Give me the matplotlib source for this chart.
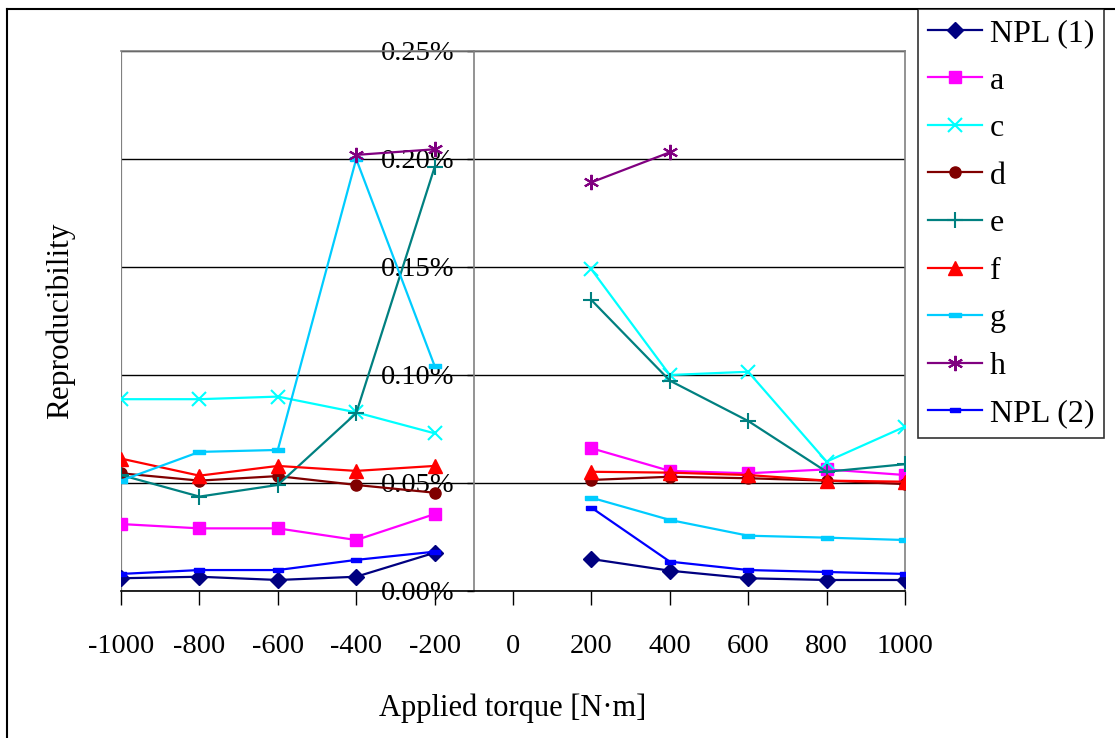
import numpy as np
import matplotlib
matplotlib.use("Agg")
import matplotlib.pyplot as plt
from matplotlib.lines import Line2D
from matplotlib.ticker import FuncFormatter

nan = np.nan

# applied torque steps (N·m); 0 is a gap between the two directions
torque = [-1000, -800, -600, -400, -200, 0, 200, 400, 600, 800, 1000]

# reproducibility in percent
npl1 = [0.0059, 0.0066, 0.0051, 0.0066, 0.0177, nan, 0.0148, 0.0094, 0.0059, 0.0051, 0.0051]
lab_a = [0.0310, 0.0290, 0.0290, 0.0236, 0.0356, nan, 0.0661, 0.0556, 0.0545, 0.0563, 0.0537]
lab_c = [0.0888, 0.0888, 0.0900, 0.0827, 0.0730, nan, 0.1489, 0.1000, 0.1015, 0.0599, 0.0761]
lab_d = [0.0545, 0.0511, 0.0532, 0.0491, 0.0455, nan, 0.0514, 0.0529, 0.0522, 0.0511, 0.0495]
lab_e = [0.0537, 0.0437, 0.0491, 0.0823, 0.1962, nan, 0.1347, 0.0974, 0.0787, 0.0552, 0.0587]
lab_f = [0.0613, 0.0534, 0.0579, 0.0556, 0.0579, nan, 0.0552, 0.0548, 0.0537, 0.0511, 0.0506]
lab_g = [0.0511, 0.0644, 0.0653, 0.2000, 0.1042, nan, 0.0432, 0.0329, 0.0256, 0.0247, 0.0236]
lab_h = [nan, nan, nan, 0.2019, 0.2045, nan, 0.1892, 0.2031, nan, nan, nan]
npl2 = [0.0079, 0.0097, 0.0097, 0.0144, 0.0182, nan, 0.0386, 0.0136, 0.0097, 0.0088, 0.0079]

labels = ["NPL (1)", "a", "c", "d", "e", "f", "g", "h", "NPL (2)"]
series = [npl1, lab_a, lab_c, lab_d, lab_e, lab_f, lab_g, lab_h, npl2]

# small horizontal bar used as a marker
bar = [(-1, -0.35), (1, -0.35), (1, 0.35), (-1, 0.35), (-1, -0.35)]

styles = [
    dict(color="#000080", marker="D", ms=8.5),
    dict(color="#FF00FF", marker="s", ms=8),
    dict(color="#00FFFF", marker="x", ms=10, mew=1.5),
    dict(color="#800000", marker="o", ms=8),
    dict(color="#008080", marker="+", ms=11, mew=1.5),
    dict(color="#FF0000", marker="^", ms=10),
    dict(color="#00CCFF", marker=bar, ms=9),
    dict(color="#800080", marker=(6, 2, 0), ms=11, mew=1.5),
    dict(color="#0000FF", marker=bar, ms=7),
]

plt.rcParams["font.family"] = ["Liberation Serif", "DejaVu Serif"]
plt.rcParams["axes.unicode_minus"] = False

fig = plt.figure(figsize=(11.15, 7.38), dpi=100)
ax = fig.add_axes([121 / 1115, 1 - 591 / 738, 784 / 1115, 540 / 738])

for y, lab, st in zip(series, labels, styles):
    ax.plot(torque, y, label=lab, lw=1.6, color=st["color"], marker=st["marker"],
            ms=st["ms"], mew=st.get("mew", 1), mfc=st["color"], mec=st["color"],
            zorder=3)

ax.set_xlim(-1000, 1000)
ax.set_ylim(0, 0.25)
ax.set_xticks(range(-1000, 1001, 200))
ax.set_yticks([0, 0.05, 0.10, 0.15, 0.20, 0.25])
ax.yaxis.set_major_formatter(FuncFormatter(lambda v, p: f"{v:.2f}%"))

# value axis crosses the torque axis between -200 and 0
ax.spines["left"].set_position(("data", -100))
ax.spines["left"].set_color("#808080")
ax.spines["right"].set_color("#808080")
ax.spines["top"].set_color("#808080")
ax.spines["bottom"].set_color("black")
for s in ax.spines.values():
    s.set_linewidth(1.2)
ax.axvline(-1000, color="#808080", lw=1.6, zorder=1)

ax.yaxis.grid(True, color="black", lw=1)
ax.set_axisbelow(True)

ax.tick_params(axis="x", direction="out", length=10, width=1, pad=21, labelsize=20.5)
ax.tick_params(axis="y", direction="out", length=5, width=1, pad=9, labelsize=20.5,
               color="black")

ax.set_xlabel("Applied torque [N·m]", fontsize=22)
ax.set_ylabel("Reproducibility", fontsize=22.5)
ax.xaxis.set_label_coords(0.5, -0.19)
ax.yaxis.set_label_coords(-0.058, 0.5)

leg = fig.legend(loc="upper left", bbox_to_anchor=(918 / 1115, 1 - 9 / 738),
                 bbox_transform=fig.transFigure, fontsize=23, frameon=True,
                 fancybox=False, edgecolor="black", borderaxespad=0,
                 handlelength=1.7, handletextpad=0.25, labelspacing=0.57,
                 borderpad=0.3)
leg.get_frame().set_linewidth(1.2)

# chart area border
fig.add_artist(Line2D([7 / 1115, 7 / 1115], [0, 1 - 9 / 738], color="black", lw=1.5,
                      transform=fig.transFigure))
fig.add_artist(Line2D([7 / 1115, 1], [1 - 9 / 738, 1 - 9 / 738], color="black", lw=1.5,
                      transform=fig.transFigure))

fig.savefig("out.png", dpi=100)
